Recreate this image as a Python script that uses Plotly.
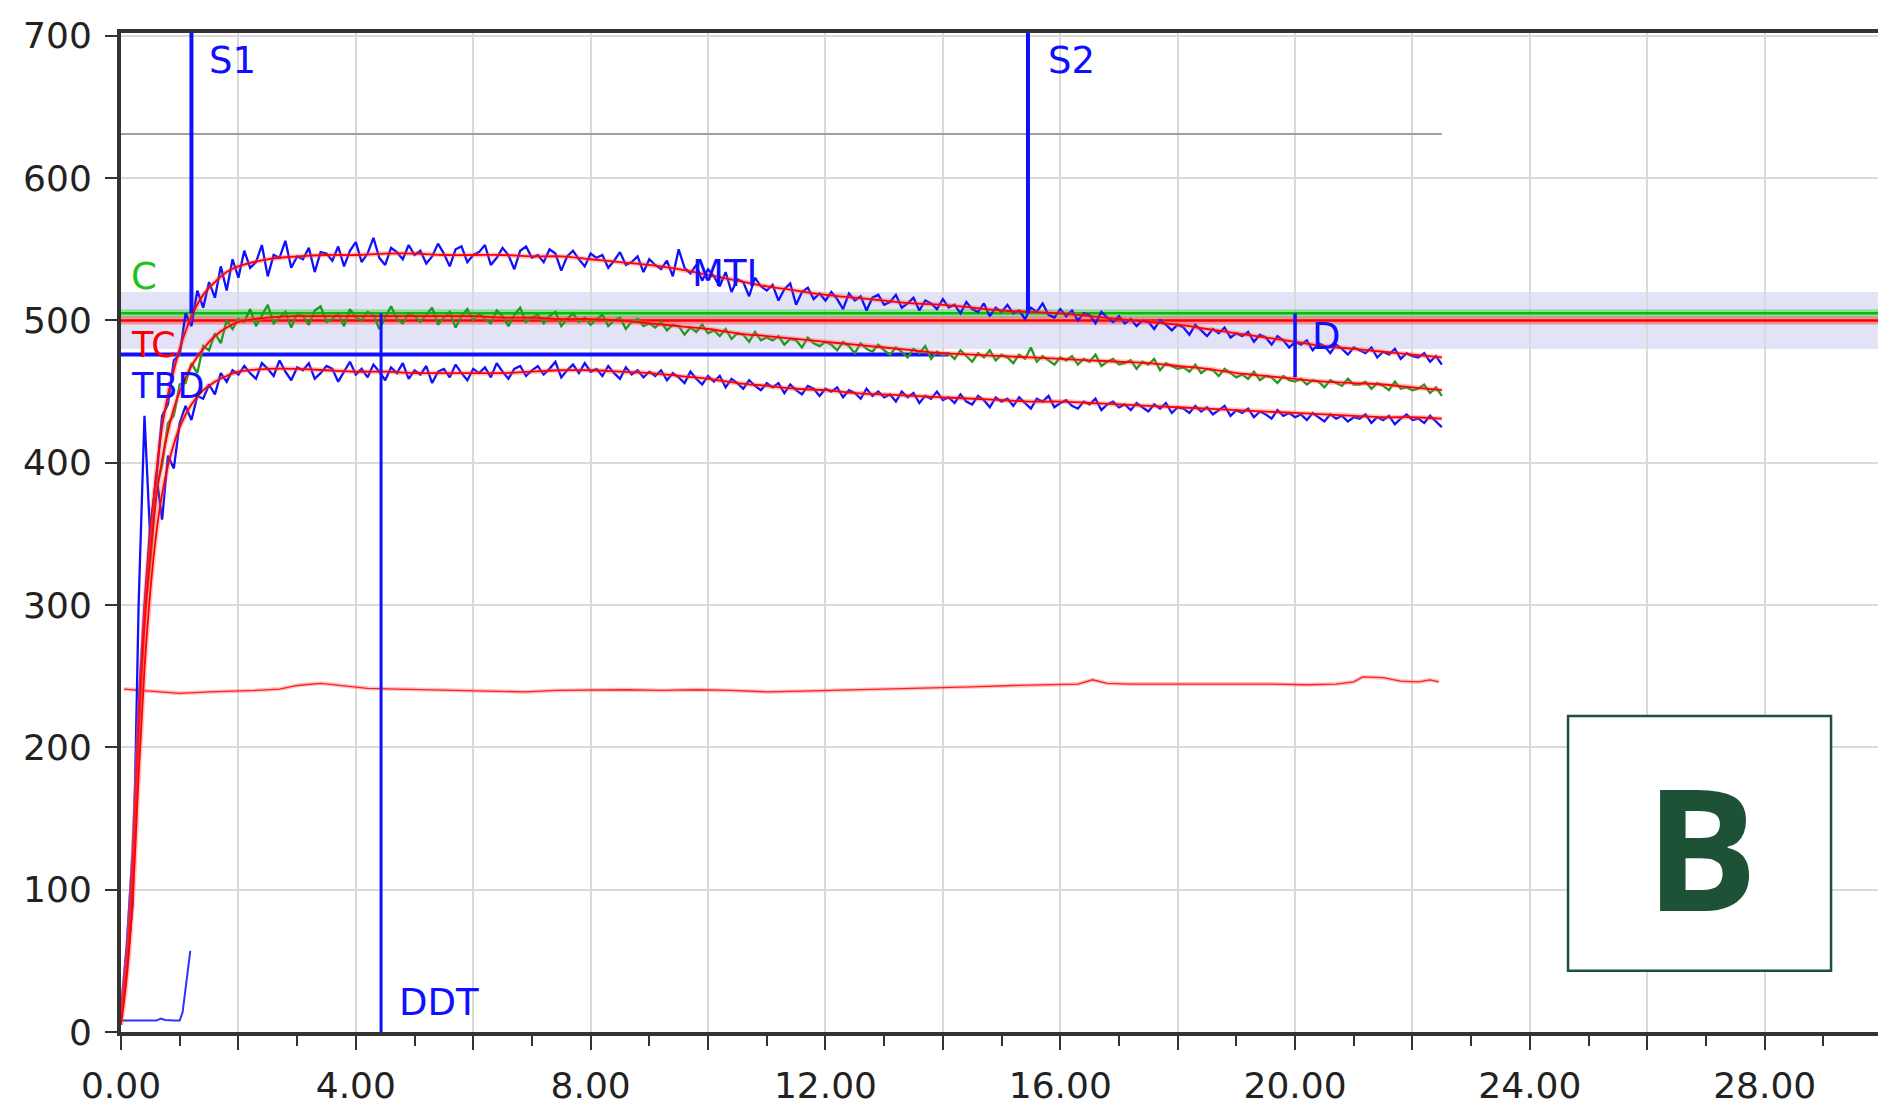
import plotly.graph_objects as go

# ---------------- data ----------------
SAMPLE_STEP = 0.1  # minutes between logged samples

# measured traces (one sample every SAMPLE_STEP, starting at t = 0)
upper_raw = [
    15, 62, 128, 230, 300, 356, 388, 433, 441, 472, 476,
    505, 496, 521, 509, 527, 516, 538, 521, 543, 530,
    549, 537, 541, 553, 531, 546, 544, 556, 537, 545,
    543, 551, 534, 548, 547, 542, 552, 538, 549, 555,
    541, 547, 558, 544, 539, 551, 548, 543, 553, 546,
    549, 540, 545, 554, 547, 538, 550, 552, 541, 546,
    548, 553, 539, 544, 551, 546, 536, 549, 552, 544,
    546, 541, 550, 547, 535, 545, 549, 543, 538, 547,
    544, 546, 537, 542, 548, 539, 541, 545, 534, 543,
    539, 536, 542, 531, 550, 537, 533, 539, 528, 536,
    531, 524, 534, 520, 529, 527, 517, 530, 524, 521,
    525, 514, 522, 526, 511, 520, 523, 515, 519, 514,
    520, 515, 508, 519, 514, 517, 507, 516, 518, 511,
    513, 518, 509, 512, 516, 507, 514, 512, 508, 515,
    509, 511, 505, 513, 508, 506, 512, 503, 509, 506,
    511, 505, 507, 501, 509, 506, 512, 504, 502, 508,
    503, 507, 500, 505, 504, 498, 506, 502, 499, 503,
    498, 501, 496, 500, 499, 494, 500, 497, 493, 497,
    495, 490, 497, 493, 489, 494, 491, 495, 488, 491,
    489, 492, 485, 490, 488, 483, 489, 486, 481, 485,
    483, 486, 479, 484, 482, 477, 483, 480, 476, 481,
    479, 477, 481, 474, 478, 476, 480, 473, 477, 475,
    474, 477, 471, 475, 469,
]

green_raw = [
    12, 55, 120, 205, 292, 330, 382, 398, 428, 433, 455,
    456, 470, 463, 482, 479, 491, 484, 500, 494, 501,
    499, 508, 496, 503, 511, 498, 502, 506, 495, 505,
    503, 497, 507, 510, 499, 501, 505, 496, 508, 502,
    500, 506, 504, 494, 502, 510, 501, 498, 505, 503,
    499, 504, 509, 497, 502, 506, 495, 503, 508, 500,
    505, 501, 498, 507, 503, 496, 504, 509, 499, 502,
    504, 498, 503, 506, 496, 501, 505, 499, 502, 497,
    501, 504, 496, 500, 502, 494, 499, 501, 496, 498,
    495, 499, 493, 497, 496, 490, 495, 492, 497, 491,
    493, 489, 494, 487, 491, 490, 485, 492, 486, 488,
    486, 489, 483, 487, 486, 481, 488, 484, 482, 485,
    483, 479, 485, 482, 477, 484, 480, 478, 483, 479,
    476, 481, 478, 474, 480, 477, 482, 473, 478, 476,
    477, 473, 479, 475, 471, 477, 474, 479, 472, 476,
    474, 470, 476, 473, 481, 471, 475, 472, 469, 474,
    472, 475, 469, 473, 471, 476, 468, 471, 473, 469,
    470, 472, 466, 471, 469, 473, 465, 470, 468, 466,
    467, 464, 469, 463, 466, 465, 461, 466, 463, 460,
    462, 459, 464, 458, 461, 460, 456, 461, 458, 457,
    459, 455, 458, 457, 453, 458, 456, 454, 459, 455,
    455, 457, 452, 456, 454, 451, 457, 452, 453, 451,
    452, 455, 449, 453, 447,
]

lower_raw = [
    8, 45, 90, 300, 433, 345, 392, 360, 405, 396, 428,
    440, 430, 447, 445, 455, 448, 463, 457, 465, 462,
    468, 463, 459, 470, 466, 461, 472, 464, 458, 467,
    465, 470, 459, 463, 468, 466, 457, 464, 471, 462,
    466, 460, 469, 464, 458, 467, 463, 470, 459, 465,
    462, 468, 456, 464, 466, 460, 469, 463, 458, 466,
    463, 467, 460, 470, 464, 459, 466, 468, 461, 465,
    468, 462, 466, 471, 460, 465, 469, 463, 470, 464,
    466, 461, 468, 463, 459, 467, 462, 465, 460, 464,
    461, 465, 458, 463, 460, 456, 464, 459, 455, 461,
    457, 461, 453, 459, 456, 452, 458, 454, 451, 456,
    453, 456, 449, 455, 451, 448, 454, 452, 447, 452,
    450, 453, 446, 451, 449, 445, 452, 447, 450, 446,
    448, 443, 450, 446, 449, 442, 447, 445, 450, 444,
    446, 442, 448, 443, 441, 447, 444, 439, 446, 443,
    445, 440, 446, 442, 438, 445, 443, 447, 439, 442,
    444, 440, 438, 443, 441, 445, 437, 441, 443, 439,
    441, 437, 442, 439, 436, 441, 438, 442, 435, 439,
    438, 435, 440, 436, 439, 434, 437, 440, 433, 437,
    435, 438, 432, 436, 434, 431, 437, 433, 435, 432,
    434, 430, 435, 432, 429, 434, 431, 433, 429, 432,
    431, 434, 428, 432, 430, 433, 427, 431, 434, 430,
    431, 428, 433, 429, 425,
]

# fitted (smoothed) curves
fit_t = [0, 0.1, 0.2, 0.3, 0.4, 0.5, 0.6, 0.7, 0.8, 0.9, 1.0, 1.2, 1.4, 1.6,
         1.8, 2.0, 2.5, 3.0, 3.5, 4.0, 4.5, 5.0, 5.5, 6.0, 6.5, 7.0, 7.5, 8.0,
         8.5, 9.0, 9.5, 10.0, 10.5, 11.0, 11.5, 12.0, 12.5, 13.0, 13.5, 14.0,
         14.5, 15.0, 15.5, 16.0, 16.5, 17.0, 17.5, 18.0, 18.5, 19.0, 19.5,
         20.0, 20.5, 21.0, 21.5, 22.0, 22.5]
upper_fit = [15, 50, 115, 215, 295, 350, 392, 425, 448, 465, 480, 503, 518,
             527, 534, 538, 543, 545, 546, 546, 547, 547, 546, 546, 546, 545,
             545, 543, 541, 539, 536, 532, 528, 524, 521, 518, 516, 514, 512,
             511, 509, 507, 506, 505, 503, 501, 499, 497, 494, 491, 488, 485,
             482, 480, 478, 476, 474]
green_fit = [10, 50, 115, 210, 285, 335, 375, 402, 422, 438, 450, 468, 480,
             489, 495, 499, 502, 503, 503, 503, 503, 503, 503, 503, 502, 502,
             501, 501, 500, 498, 496, 494, 491, 489, 487, 485, 483, 481, 479,
             477, 476, 475, 474, 473, 472, 471, 470, 468, 466, 463, 461, 459,
             457, 456, 455, 453, 451]
lower_fit = [5, 40, 95, 180, 255, 310, 350, 378, 398, 413, 425, 441, 451,
             457, 461, 464, 466, 466, 465, 464, 464, 463, 463, 463, 463, 464,
             465, 465, 464, 463, 461, 459, 456, 454, 452, 451, 449, 448, 447,
             446, 445, 444, 443, 443, 442, 441, 440, 439, 438, 437, 436, 435,
             434, 433, 432, 432, 431]

# ambient trace near 240
amb_t = [0.05, 0.5, 1.0, 1.5, 2.0, 2.3, 2.7, 3.0, 3.4, 3.8, 4.2, 4.7, 5.2,
         5.8, 6.4, 6.9, 7.4, 8.0, 8.6, 9.2, 9.8, 10.4, 11.0, 11.6, 12.1, 12.7,
         13.3, 13.9, 14.5, 15.2, 15.8, 16.3, 16.55, 16.8, 17.2, 17.8, 18.4,
         19.0, 19.6, 20.2, 20.7, 21.0, 21.15, 21.5, 21.8, 22.1, 22.3, 22.45]
amb_v = [241, 239.5, 238, 239, 239.5, 240, 241, 243.5, 245, 243, 241.5, 241,
         240.5, 240, 239.5, 239, 240, 240.5, 240.5, 240, 240.5, 240, 239,
         239.5, 240, 240.5, 241, 242, 242.5, 243.5, 244, 244.5, 247.5, 245,
         244.5, 244.5, 244.5, 245, 244.5, 244, 244.5, 246, 249.5, 249, 246.5,
         246, 247.5, 246]

# upper limit trace (grey)
limit_t = [0, 3, 6, 9, 12, 15, 18, 21, 22.5]
limit_v = [631, 631, 630.5, 631, 631, 630.5, 631, 631, 631]

# low-level start-up signal
start_t = [0.02, 0.3, 0.6, 0.68, 0.75, 0.9, 1.0, 1.05, 1.1, 1.15, 1.18]
start_v = [8, 8, 8, 9.5, 8.5, 8, 8, 14, 30, 50, 57]

# reference levels
band_lo, band_hi = 480, 520
level_c = 505
level_tc = 500
level_tbd = 476
tbd_end = 14.1

# event markers: (time, y from, y to)
events = {
    "S1": (1.2, 505, 702),
    "S2": (15.45, 505, 702),
    "DDT": (4.43, 0, 505),
    "D": (20.0, 460, 505),
}

x_tick_vals = [0, 2, 4, 6, 8, 10, 12, 14, 16, 18, 20, 22, 24, 26, 28, 30]
x_tick_text = ["0.00", "", "4.00", "", "8.00", "", "12.00", "", "16.00", "",
               "20.00", "", "24.00", "", "28.00", ""]
y_tick_vals = [0, 100, 200, 300, 400, 500, 600, 700]

# ---------------- figure ----------------
BLUE = "#1010ff"
GREEN_LINE = "#00c000"
GREEN_TRACE = "#1f9a1f"
RED = "#ff0000"
FONT = "DejaVu Sans"


def times(values):
    return [round(i * SAMPLE_STEP, 2) for i in range(len(values))]


fig = go.Figure()


def add_line(x, y, color, width, shape="linear"):
    fig.add_trace(go.Scatter(x=x, y=y, mode="lines",
                             line=dict(color=color, width=width, shape=shape),
                             hoverinfo="skip", showlegend=False))


x_lo, x_hi = 0, 29.93

# grey upper limit and ambient trace
add_line(limit_t, limit_v, "#a0a0a0", 2)
add_line(amb_t, amb_v, "rgba(255,80,80,0.35)", 4)
add_line(amb_t, amb_v, "#ff2020", 1.3)

# horizontal reference levels with soft halos
add_line([x_lo, x_hi], [level_c, level_c], "rgba(0,200,0,0.35)", 8)
add_line([x_lo, x_hi], [level_c, level_c], GREEN_LINE, 2.5)
add_line([x_lo, x_hi], [level_tc, level_tc], "rgba(255,0,0,0.35)", 8)
add_line([x_lo, x_hi], [level_tc, level_tc], RED, 2.5)
add_line([x_lo, tbd_end], [level_tbd, level_tbd], BLUE, 4)

# start-up signal
add_line(start_t, start_v, "#3030ff", 2)

# measured traces
add_line(times(lower_raw), lower_raw, BLUE, 2.3)
add_line(times(green_raw), green_raw, GREEN_TRACE, 2.3)
add_line(times(upper_raw), upper_raw, BLUE, 2.3)

# fitted curves on top
for fit in (upper_fit, green_fit, lower_fit):
    add_line(fit_t, fit, "rgba(255,90,90,0.35)", 5, "spline")
    add_line(fit_t, fit, RED, 1.8, "spline")

# event markers
widths = {"S1": 4, "S2": 4, "DDT": 3, "D": 3.5}
for name, (t, y0, y1) in events.items():
    add_line([t, t], [y0, y1], BLUE, widths[name])

# band behind everything
fig.add_shape(type="rect", xref="x", yref="y", x0=x_lo, x1=x_hi,
              y0=band_lo, y1=band_hi, fillcolor="#e3e3f8",
              line=dict(width=0), layer="below")

# text labels: (text, x, y, colour, size)
labels = [
    ("S1", events["S1"][0] + 0.27, 683, BLUE, 37),
    ("S2", events["S2"][0] + 0.3, 683, BLUE, 37),
    ("C", 0.14, 531, "#20c020", 37),
    ("TC", 0.14, 482.5, RED, 35),
    ("TBD", 0.14, 454, BLUE, 35),
    ("MTI", 9.7, 533, BLUE, 37),
    ("D", 20.25, 489, BLUE, 37),
    ("DDT", 4.7, 21, BLUE, 37),
]
for text, x, y, color, size in labels:
    fig.add_annotation(x=x, y=y, xref="x", yref="y", text=text,
                       showarrow=False, xanchor="left", yanchor="middle",
                       font=dict(family=FONT, size=size, color=color))

# panel letter
fig.add_shape(type="rect", xref="x", yref="y", x0=24.65, x1=29.13,
              y0=43, y1=222, line=dict(color="#1d5237", width=2.5),
              fillcolor="white", layer="above")
fig.add_annotation(x=26.92, y=131, xref="x", yref="y", text="<b>B</b>",
                   showarrow=False, xanchor="center", yanchor="middle",
                   font=dict(family="Open Sans", size=168, color="#1d5237"))

axis_color = "#333333"
fig.update_xaxes(
    range=[x_lo, x_hi], tickvals=x_tick_vals, ticktext=x_tick_text,
    ticks="outside", ticklen=14, tickwidth=2, tickcolor=axis_color,
    showline=True, linecolor=axis_color, linewidth=4, mirror=True,
    showgrid=True, gridcolor="#dadada", gridwidth=1.5, zeroline=False,
    tickfont=dict(family=FONT, size=36, color="#222222"),
    minor=dict(dtick=1, ticks="outside", ticklen=10, tickwidth=2,
               tickcolor=axis_color, showgrid=False),
    ticklabelstandoff=5,
)
fig.update_yaxes(
    range=[0, 702], tickvals=y_tick_vals,
    ticks="outside", ticklen=12, tickwidth=2, tickcolor=axis_color,
    showline=True, linecolor=axis_color, linewidth=4,
    showgrid=True, gridcolor="#dadada", gridwidth=1.5, zeroline=False,
    tickfont=dict(family=FONT, size=36, color="#222222"),
    ticklabelstandoff=6,
)
fig.update_layout(
    width=1878, height=1115,
    margin=dict(l=121, r=0, t=33, b=83),
    paper_bgcolor="white", plot_bgcolor="white",
    showlegend=False,
)

fig.write_html("out.html")
